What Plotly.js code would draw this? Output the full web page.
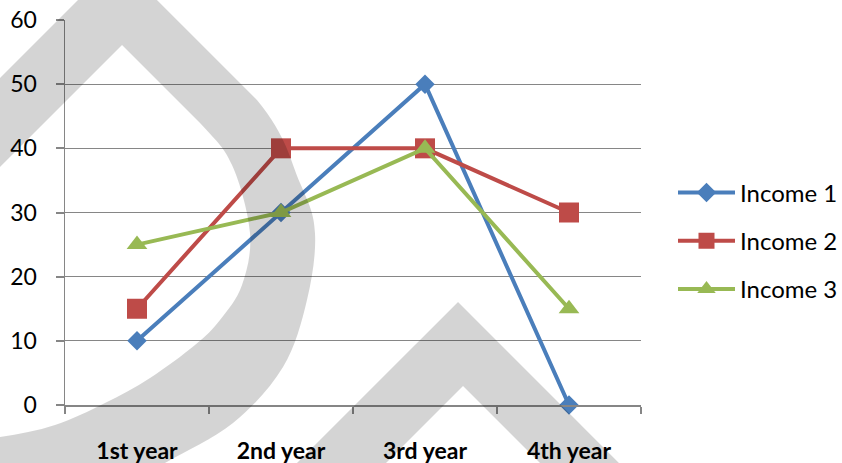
<!DOCTYPE html>
<html>
<head>
<meta charset="utf-8">
<script src="https://cdn.plot.ly/plotly-3.0.1.min.js"></script>
<style>
  html, body { margin: 0; padding: 0; background: #ffffff; }
  #chart { width: 842px; height: 463px; }
</style>
</head>
<body>
<div id="chart"></div>
<script>
// ---- data ----
const categories = ["1st year", "2nd year", "3rd year", "4th year"];
const income1 = [10, 30, 50, 0];
const income2 = [15, 40, 40, 30];
const income3 = [25, 30, 40, 15];
const seriesNames = ["Income 1", "Income 2", "Income 3"];
const yTicks = [0, 10, 20, 30, 40, 50, 60];

// ---- plot area geometry (px) ----
const PL = 65, PT = 20, PW = 576, PH = 385;
function pp(x, y) {
  return ((x - PL) / PW).toFixed(4) + ',' + ((PT + PH - y) / PH).toFixed(4);
}
function smooth(pts) {
  let s = '';
  for (let i = 1; i < pts.length - 2; i++) {
    const p0 = pts[i - 1], p1 = pts[i], p2 = pts[i + 1], p3 = pts[i + 2];
    const c1 = [p1[0] + (p2[0] - p0[0]) / 6, p1[1] + (p2[1] - p0[1]) / 6];
    const c2 = [p2[0] - (p3[0] - p1[0]) / 6, p2[1] - (p3[1] - p1[1]) / 6];
    s += ' C' + pp(c1[0], c1[1]) + ' ' + pp(c2[0], c2[1]) + ' ' + pp(p2[0], p2[1]);
  }
  return s;
}

// watermark shape A (teardrop band)
const outerA = 'M' + pp(-60, 138) + ' L' + pp(117.5, -39.5) + ' L' + pp(257, 100) +
  smooth([[117.5, -39.5], [257, 100], [300, 183], [315, 233], [307, 300], [283, 367], [233, 423], [165, 463], [110, 495], [60, 510]]) +
  ' L' + pp(110, 495) + ' L' + pp(-60, 495) + ' Z';
const innerA = 'M' + pp(-60, 227) + ' L' + pp(122, 45) + ' L' + pp(200, 123) +
  smooth([[122, 45], [200, 123], [232, 165], [250, 233], [242, 285], [220, 320], [195, 345], [150, 378], [105, 403], [55, 425], [0, 437], [-60, 442]]) +
  ' L' + pp(0, 437) + ' L' + pp(-60, 442) + ' Z';
const pathB = 'M' + pp(260, 500) + ' L' + pp(458, 302) + ' L' + pp(656, 500) +
  ' L' + pp(577, 500) + ' L' + pp(463, 386) + ' L' + pp(349, 500) + ' Z';

const wm = { type: 'path', xref: 'paper', yref: 'paper', layer: 'above',
  fillcolor: 'rgba(0,0,0,0.17)', line: { width: 0 }, fillrule: 'evenodd' };

const colors = ["#4A7EBB", "#BE4B48", "#98B954"];
const symbols = ["diamond", "square", "triangle-up"];
const sizes = [15, 20, 18];
const values = [income1, income2, income3];

const traces = values.map((v, i) => ({
  type: 'scatter', mode: 'lines+markers',
  x: categories, y: v, name: seriesNames[i],
  legendgroup: 'g' + i, cliponaxis: false,
  line: { color: colors[i], width: 4 },
  marker: { color: colors[i], symbol: symbols[i], size: sizes[i], line: { width: 0 } }
}));

const layout = {
  width: 842, height: 463,
  margin: { l: PL, r: 842 - PL - PW, t: PT, b: 463 - PT - PH, autoexpand: false },
  paper_bgcolor: '#ffffff', plot_bgcolor: '#ffffff',
  showlegend: true,
  xaxis: {
    type: 'category', range: [-0.5, 3.5], tickson: 'boundaries',
    ticks: 'outside', ticklen: 7, tickwidth: 2, tickcolor: '#868686',
    showline: true, linecolor: '#868686', linewidth: 1.5,
    showgrid: false, zeroline: false,
    tickfont: { family: 'Lato', size: 23, color: '#000000', weight: 'bold' },
    ticklabelstandoff: 25
  },
  yaxis: {
    range: [0, 60], tickvals: yTicks, ticktext: yTicks.map(String),
    ticks: 'outside', ticklen: 8, tickwidth: 2, tickcolor: '#868686',
    showline: true, linecolor: '#868686', linewidth: 1.5,
    showgrid: true, gridcolor: '#868686', gridwidth: 1.2, zeroline: false,
    tickfont: { family: 'Lato', size: 23, color: '#000000' },
    ticklabelstandoff: 14
  },
  legend: {
    x: (673 - PL) / PW, xanchor: 'left', y: (PT + PH - 241) / PH, yanchor: 'middle',
    font: { family: 'Lato', size: 24, color: '#000000' },
    bgcolor: 'rgba(0,0,0,0)', itemwidth: 57, tracegroupgap: 14
  },
  shapes: [
    Object.assign({}, wm, { path: outerA + ' ' + innerA }),
    Object.assign({}, wm, { path: pathB })
  ]
};

Plotly.newPlot('chart', traces, layout, { displayModeBar: false, staticPlot: true });
</script>
</body>
</html>
